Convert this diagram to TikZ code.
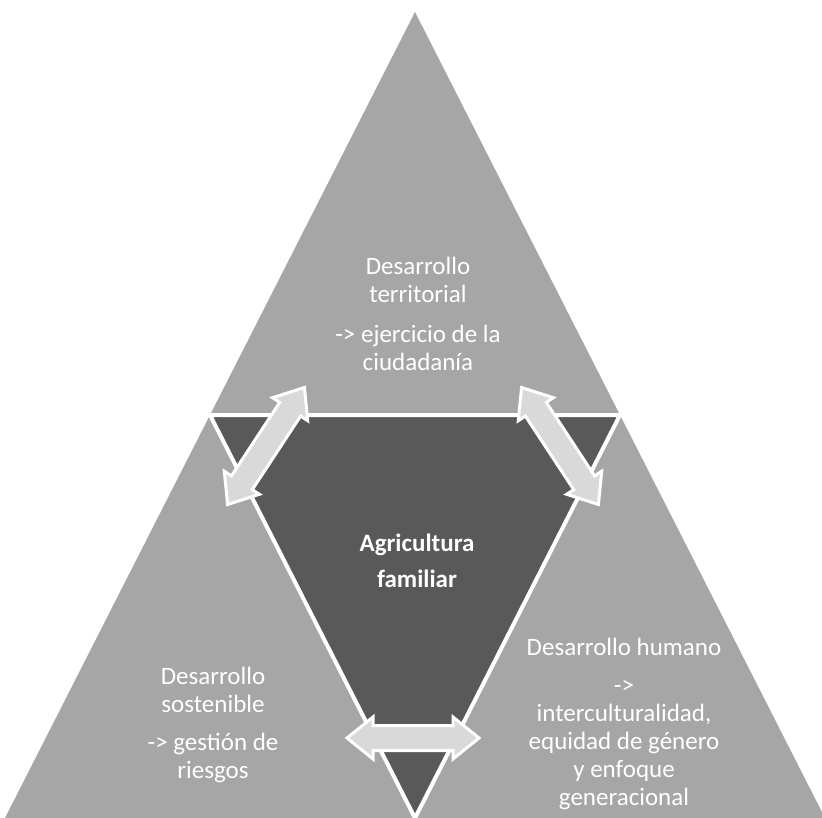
\documentclass[tikz,border=0pt]{standalone}
\usepackage{fontspec}
\setmainfont{Carlito}

\definecolor{pyrgray}{HTML}{A6A6A6}
\definecolor{coregray}{HTML}{595959}
\definecolor{arrowgray}{HTML}{D9D9D9}

\tikzset{
  lbl/.style={text=white, align=center, font=\fontsize{25}{28}\selectfont},
  twoway/.style={fill=arrowgray, draw=white, line width=3pt, line join=miter},
}

\begin{document}
\begin{tikzpicture}[x=1pt,y=-1pt]
  \useasboundingbox (0,0) rectangle (822,818);

  % outer pyramid and the inner triangle
  \coordinate (apex) at (415,12);
  \coordinate (bl) at (5,818);
  \coordinate (br) at (825,818);
  \coordinate (ml) at (210,415);
  \coordinate (mr) at (620,415);
  \coordinate (mb) at (415,818);

  \fill[pyrgray] (apex) -- (bl) -- (br) -- cycle;
  \filldraw[fill=coregray, draw=white, line width=4pt, line join=round]
    (ml) -- (mr) -- (mb) -- cycle;

  % two-way arrows at the corners
  \def\hw{21}
  \def\sw{12.5}
  \def\hl{26}
  \foreach \cx/\cy/\ang/\len in {266/446/56.7/140, 560/446/-56.7/140, 413/738/0/132} {
    \begin{scope}[shift={(\cx,\cy)}, rotate=\ang]
      \pgfmathsetmacro\e{\len/2}
      \filldraw[twoway] (-\e,0) -- (-\e+\hl,\hw) -- (-\e+\hl,\sw) -- (\e-\hl,\sw)
        -- (\e-\hl,\hw) -- (\e,0) -- (\e-\hl,-\hw) -- (\e-\hl,-\sw)
        -- (-\e+\hl,-\sw) -- (-\e+\hl,-\hw) -- cycle;
    \end{scope}
  }

  \node[lbl] (terr) at (418,314) {Desarrollo\\territorial\\[12pt]-> ejercicio de la\\ciudadanía};
  \node[lbl] (sost) at (213,725) {Desarrollo\\sostenible\\[10pt]-> gestión de\\riesgos};
  \node[lbl] (hum) at (624,724) {Desarrollo humano\\[10pt]->\\interculturalidad,\\equidad de género\\y enfoque\\generacional};
  \node[lbl, font=\bfseries\fontsize{25}{36}\selectfont] (agri) at (417,561) {Agricultura\\familiar};

\end{tikzpicture}
\end{document}
